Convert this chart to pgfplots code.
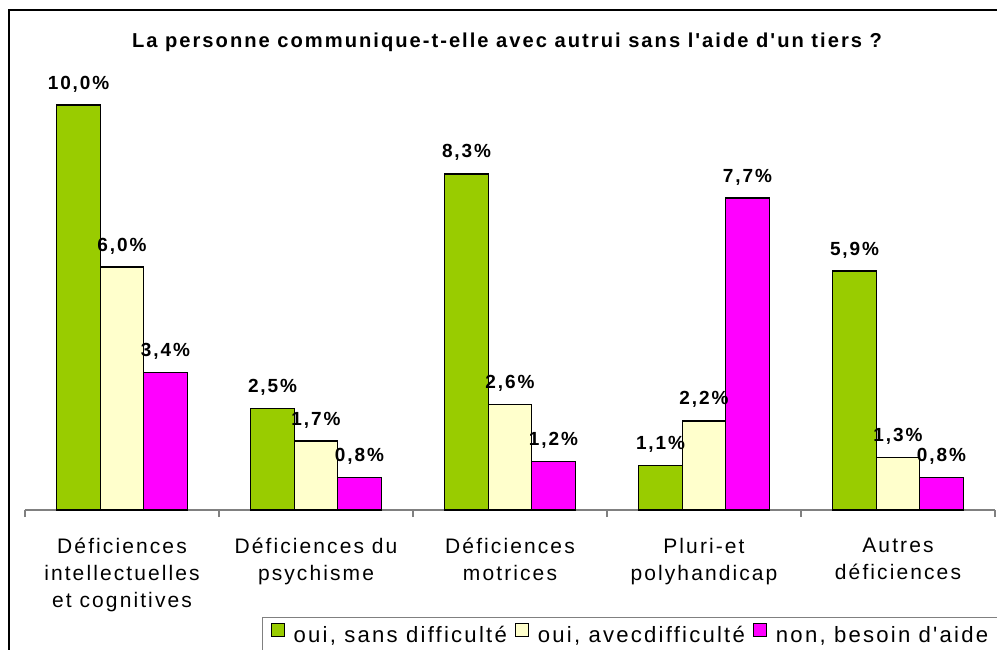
\documentclass[border=0pt]{standalone}
\usepackage{fontspec}
\setmainfont{Liberation Sans}
\newfontfamily\ls[LetterSpace=10]{Liberation Sans}
\usepackage{pgfplots}
\pgfplotsset{compat=1.18}
\definecolor{vert}{HTML}{99CC00}
\definecolor{creme}{HTML}{FFFFCC}
\definecolor{rose}{HTML}{FF00FF}
\pgfplotsset{sqleg/.style={legend image code/.code={%
  \draw[##1, line width=0.8pt] (0pt,-1pt) rectangle (10pt,9pt);}}}
\begin{document}
\begin{tikzpicture}
% picture is 997x650 px, 1px = 0.75pt, origin at the top left corner
\path[use as bounding box, clip] (0,0) rectangle (747.75pt,-487.5pt);
\draw[line width=1.2pt] (6.75pt,-500pt) -- (6.75pt,-7.5pt) -- (760pt,-7.5pt);
\node[anchor=base, font=\ls\bfseries\fontsize{15.1}{18}\selectfont]
  at (380.25pt,-35.25pt) {La personne communique-t-elle avec autrui sans l'aide d'un tiers ?};
\begin{axis}[
    at={(18.75pt,-382.5pt)}, anchor=south west,
    scale only axis, width=727.5pt, height=364.5pt,
    xmin=-0.5, xmax=4.5, ymin=0, ymax=12,
    axis x line=bottom, axis y line=none,
    x axis line style={-, gray, line width=1pt},
    ybar=0pt, bar width=32.6pt,
    xtick={0,...,4},
    xticklabels={{Déficiences\\intellectuelles\\et cognitives},
                 {Déficiences du\\psychisme},
                 {Déficiences\\motrices},
                 {Pluri-et\\polyhandicap},
                 {Autres\\déficiences}},
    major tick length=0pt,
    minor xtick={-0.5,0.5,...,4.5},
    minor tick length=5.25pt,
    tick align=outside,
    tick style={gray, line width=1pt},
    xticklabel style={align=center, font=\ls\fontsize{15.75}{20.25}\selectfont,
                      anchor=north, inner sep=0pt, yshift=-21pt},
    /pgf/number format/assume math mode=true,
    nodes near coords={\pgfmathprintnumber[fixed,fixed zerofill,precision=1,use comma]{\pgfplotspointmeta}\%},
    every node near coord/.append style={font=\ls\bfseries\fontsize{14.25}{16}\selectfont,
                                         anchor=base, inner sep=0pt, yshift=12pt},
    legend columns=3,
    legend style={at={(0.2443,-0.2202)}, anchor=north west, draw=gray, line width=1pt,
                  font=\ls\fontsize{16.6}{19}\selectfont, inner xsep=6pt, inner ysep=4pt,
                  /tikz/every odd column/.append style={column sep=4.5pt},
                  /tikz/every even column/.append style={column sep=4pt}},
]
\addplot[fill=vert, draw=black, line width=1pt, sqleg]
  coordinates {(0,10.0) (1,2.5) (2,8.3) (3,1.1) (4,5.9)};
\addlegendentry{oui, sans difficulté}
\addplot[fill=creme, draw=black, line width=1pt, sqleg]
  coordinates {(0,6.0) (1,1.7) (2,2.6) (3,2.2) (4,1.3)};
\addlegendentry{oui, avecdifficulté}
\addplot[fill=rose, draw=black, line width=1pt, sqleg]
  coordinates {(0,3.4) (1,0.8) (2,1.2) (3,7.7) (4,0.8)};
\addlegendentry{non, besoin d'aide\hspace{12pt}}
\end{axis}
\end{tikzpicture}
\end{document}
